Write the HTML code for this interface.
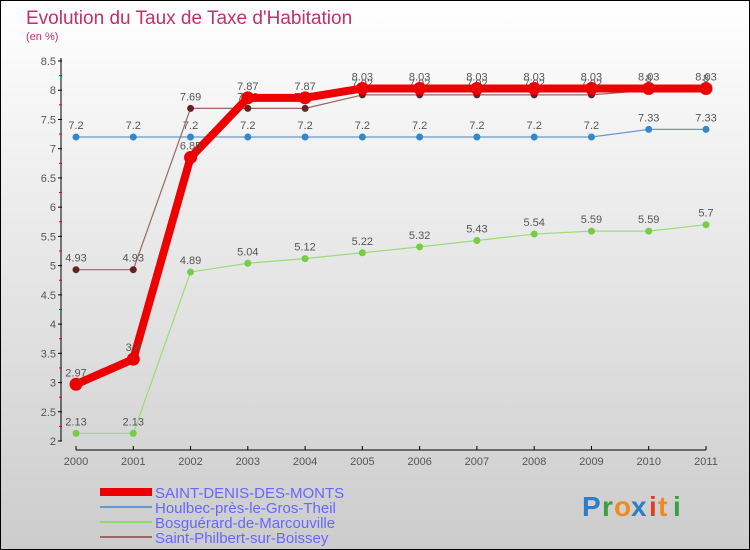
<!DOCTYPE html>
<html><head><meta charset="utf-8"><style>
body{margin:0;width:750px;height:550px;overflow:hidden}
svg{display:block}
text{font-family:"Liberation Sans",sans-serif}
</style></head><body>
<svg id="c" width="750" height="550" xmlns="http://www.w3.org/2000/svg">
<defs><linearGradient id="bg" x1="0" y1="0" x2="0" y2="1"><stop offset="0" stop-color="#ffffff"/><stop offset="1" stop-color="#cccccc"/></linearGradient></defs>
<rect x="0.5" y="0.5" width="749" height="549" fill="url(#bg)" stroke="#000"/>
<text x="26" y="24" font-size="19" fill="#c0306a">Evolution du Taux de Taxe d'Habitation</text>
<text x="26" y="40" font-size="11" fill="#c0306a">(en %)</text>
<g id="axes"></g><g id="series"></g>
<g>
<rect x="100" y="488" width="52" height="8" fill="#ee0000"/>
<text x="155" y="498" font-size="15" fill="#6666ff">SAINT-DENIS-DES-MONTS</text>
<rect x="100" y="506" width="52" height="2" fill="#6699cc"/>
<text x="155" y="513" font-size="15" fill="#6666ff">Houlbec-près-le-Gros-Theil</text>
<rect x="100" y="521" width="52" height="2" fill="#88dd66"/>
<text x="155" y="528" font-size="15" fill="#6666ff">Bosguérard-de-Marcouville</text>
<rect x="100" y="536" width="52" height="2" fill="#996666"/>
<text x="155" y="543" font-size="15" fill="#6666ff">Saint-Philbert-sur-Boissey</text>
</g>
<g font-size="28" font-weight="bold">
<text x="582" y="516" fill="#2a7fc9">P</text><text x="602" y="516" fill="#3aa040">r</text><text x="614" y="516" fill="#f08a1c">o</text><text x="631" y="516" fill="#2a7fc9">x</text><text x="649" y="516" fill="#e04020">i</text><text x="658" y="516" fill="#f08a1c">t</text><text x="673" y="516" fill="#3aa040">i</text>
</g>
</svg>
<script>
const years=[2000,2001,2002,2003,2004,2005,2006,2007,2008,2009,2010,2011];
const yTicks=[2,2.5,3,3.5,4,4.5,5,5.5,6,6.5,7,7.5,8,8.5];
const saintDenis=[2.97,3.4,6.85,7.87,7.87,8.03,8.03,8.03,8.03,8.03,8.03,8.03];
const houlbec=[7.2,7.2,7.2,7.2,7.2,7.2,7.2,7.2,7.2,7.2,7.33,7.33];
const bosguerard=[2.13,2.13,4.89,5.04,5.12,5.22,5.32,5.43,5.54,5.59,5.59,5.7];
const saintPhilbert=[4.93,4.93,7.69,7.69,7.69,7.92,7.92,7.92,7.92,7.92,8,8];
const NS="http://www.w3.org/2000/svg";
const X=i=>76+i*(706-76)/11;
const Y=v=>441-(v-2)*(441-61)/6.5;
function mk(tag,attrs,parent){const e=document.createElementNS(NS,tag);for(const k in attrs)e.setAttribute(k,attrs[k]);parent.appendChild(e);return e;}
const ax=document.getElementById('axes'),sg=document.getElementById('series');
let l=mk('line',{x1:61,y1:58,x2:61,y2:441,stroke:'#000'},ax);


l=mk('line',{x1:76,y1:450,x2:706,y2:450,stroke:'#000'},ax);


yTicks.forEach(v=>{
  mk('line',{x1:58,x2:62,y1:Y(v),y2:Y(v),stroke:'#000'},ax);
  if(v<8.5) mk('line',{x1:59,x2:62,y1:Y(v+0.25),y2:Y(v+0.25),stroke:'#e00'},ax);
  const t=mk('text',{x:56,y:Y(v)+4,'font-size':11,fill:'#555','text-anchor':'end'},ax);t.textContent=v;
  
  
});
years.forEach((yr,i)=>{
  mk('line',{x1:X(i),x2:X(i),y1:446,y2:450,stroke:'#000'},ax);
  const t=mk('text',{x:X(i),y:465,'font-size':11,fill:'#555','text-anchor':'middle'},ax);t.textContent=yr;
  
  
});
function draw(vals,name,color,w,r,dot){
  const g=mk('g',{},sg);
  
  
  const p=mk('polyline',{points:vals.map((v,i)=>X(i)+','+Y(v)).join(' '),fill:'none',stroke:color,'stroke-width':w,'stroke-linejoin':'round'},g);
  
  
  vals.forEach((v,i)=>{
    const c=mk('circle',{cx:X(i),cy:Y(v),r:r,fill:dot},g);
    
    
    const t=mk('text',{x:X(i),y:Y(v)-8,'font-size':11,fill:'#555','text-anchor':'middle'},g);t.textContent=v;
    
    
  });
}
draw(houlbec,'houlbec','#6699cc',1.2,3.5,'#3388cc');
draw(bosguerard,'bosguerard','#99dd77',1.2,3.5,'#77cc44');
draw(saintPhilbert,'saint-philbert','#996666',1.2,3.5,'#662222');
draw(saintDenis,'saint-denis','#ee0000',8,6.5,'#ee0000');
</script>
</body></html>
